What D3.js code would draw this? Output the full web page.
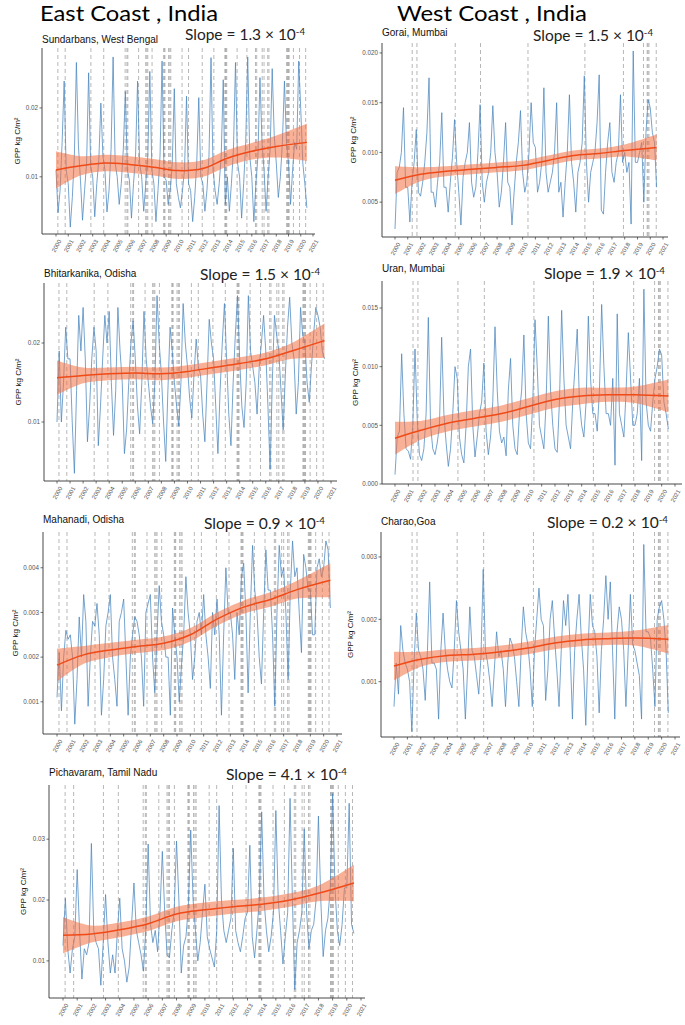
<!DOCTYPE html>
<html><head><meta charset="utf-8">
<script src="https://cdn.jsdelivr.net/npm/d3@7"></script>
<style>body{margin:0;background:#fff} svg{display:block}</style>
</head><body>
<svg id="c" width="685" height="1025"></svg>
<script>
// ---------- DATA ----------
const UNIT = 1e-5;               // series values below are in units of 1e-5 kg C/m²
const SAMPLES_PER_YEAR = 6;      // bimonthly samples starting Jan 2000
const YEAR_TICKS = d3.range(2000, 2022);
const TREND_YEARS = [2000, 2002, 2004, 2006, 2008, 2010, 2012, 2014, 2016, 2018, 2020.5];

const EAST_EVENTS = [2000.15, 2000.75, 2002.85, 2003.9, 2005.65, 2005.8, 2005.87, 2006.75, 2007.33, 2007.42, 2007.5, 2007.85,
  2008.8, 2008.85, 2008.9, 2009.2, 2009.3, 2009.38, 2010.3, 2010.83, 2011.95, 2012.9, 2013.8, 2013.85, 2013.9, 2013.95,
  2014.8, 2015.6, 2016.3, 2016.4, 2016.85, 2017.0, 2017.3, 2017.4, 2018.85, 2018.9, 2018.95, 2019.0, 2019.05, 2019.4, 2019.9, 2020.4];
const WEST_EVENTS = [2001.35, 2001.72, 2004.72, 2006.7, 2010.42, 2014.88, 2017.9, 2019.47, 2019.76, 2019.82, 2019.9, 2020.47];

const sundarbans = [
 1100,480,800,1500,2390,1100, 900,270,700,1300,2660,1450, 950,370,800,1200,2510,1150, 1000,420,900,1250,2070,1300,
 1100,490,800,1400,2740,1200, 1000,600,900,1400,2240,1100, 950,400,900,1300,2390,1200, 1000,500,900,1300,2530,1100,
 900,350,800,1300,2680,1000, 950,600,800,1200,2280,900, 700,550,800,1100,2170,900, 800,350,700,1200,2150,1000,
 900,500,800,1300,2730,1100, 800,600,900,1300,2410,600, 1000,500,900,1400,2660,1200, 1000,400,900,1500,2740,1300,
 1000,350,900,1300,2440,1500, 1100,500,1000,1400,2570,1600, 1200,700,1000,1500,2390,1500, 1200,600,1100,1500,1400,2680,
 1980,1200,900,550];
const gorai = [
 230,800,850,1000,1450,650, 650,300,700,900,1230,600, 560,700,900,1200,1750,600, 600,450,700,900,1400,650,
 650,400,700,950,1330,900, 600,270,750,900,1000,1300, 700,550,650,1000,1480,700, 500,700,800,1000,1470,1000,
 800,450,600,900,1300,700, 650,270,600,900,1100,1420, 800,600,700,1000,1500,1100, 1050,600,700,900,1650,800,
 600,700,800,1000,1500,600, 700,350,700,1000,1580,900, 700,400,800,900,1100,1770, 900,500,800,900,1000,1300,
 1780,420,380,800,1100,1300, 800,700,900,1000,1580,900, 1000,800,900,280,2020,900, 900,1000,1100,500,1200,1530,
 1450,1200,1100,650];
const bhitarkanika = [
 1000,1900,1000,1500,2200,1800, 1800,1000,350,1400,2350,1900, 2450,1800,750,1200,1800,2200, 1900,700,1200,1800,2350,2000,
 2400,1500,830,1400,2450,1900, 1500,600,900,1500,2000,2280, 1800,1200,850,1500,2400,1800, 1500,1200,980,1500,2600,2000,
 1600,1000,500,1400,2200,1900, 1500,1200,950,1500,2500,2000, 1700,1300,1050,1600,2050,1700, 1600,1100,750,1500,2300,2000,
 1800,1200,600,1400,2000,2500, 1800,1100,700,1500,2100,2600, 1800,1200,930,1500,2600,1900, 1700,1500,1100,1700,2000,2350,
 1900,1200,400,1500,2350,2100, 1900,1400,900,1600,2200,2580, 2000,1800,1100,1500,2450,2100, 2000,1500,1250,1700,2100,2450,
 2350,2200,1900,1800];
const uran = [
 80,400,450,1110,600,300, 280,210,500,1150,550,250, 200,300,600,1420,500,300, 250,350,500,1250,600,350,
 150,300,600,1000,900,400, 250,180,500,1000,1150,500, 230,400,600,700,1030,450, 250,400,700,1340,800,450,
 350,400,240,800,1070,500, 300,250,600,800,1270,600, 350,300,700,1400,1000,500, 400,300,700,1430,800,500,
 300,270,700,1480,900,500, 400,300,700,1000,1320,700, 500,400,700,1430,900,600, 600,450,800,1530,1000,600,
 600,500,900,160,1450,600, 500,400,800,1290,900,500, 500,600,900,200,1660,700, 500,450,700,900,1000,1150,
 1100,700,600,470];
const mahanadi = [
 110,210,80,200,260,240, 250,200,50,150,290,200, 340,280,90,200,280,270, 320,250,70,150,270,300,
 340,200,150,90,280,300, 330,200,70,200,250,290, 280,250,200,90,300,320, 340,200,120,250,360,280,
 250,200,200,70,310,250, 200,100,180,250,380,300, 250,150,200,280,300,250, 340,250,200,130,300,250,
 330,250,70,250,400,300, 300,250,150,300,250,380, 410,300,120,300,450,350, 300,200,140,300,440,350,
 350,250,90,300,450,380, 400,300,150,350,460,380, 400,300,210,430,400,350, 350,250,250,400,420,380,
 400,460,440,310];
const charao = [
 60,130,80,190,150,130, 120,100,20,130,210,150, 140,120,70,150,260,130, 130,120,40,150,210,150,
 120,100,90,150,230,180, 150,120,40,120,220,150, 140,110,80,140,280,150, 130,100,60,120,180,140,
 150,120,60,130,170,160, 140,100,60,150,220,180, 160,120,60,150,200,250, 200,190,70,120,200,230,
 170,120,60,150,230,190, 240,150,40,150,200,240, 170,120,30,150,240,190, 180,140,50,150,200,270,
 200,260,150,40,180,220, 200,150,60,150,240,160, 150,130,110,40,320,180, 180,170,120,60,200,220,
 230,200,150,50];
const pichavaram = [
 1250,2030,1200,800,1200,1400, 2500,1500,700,1200,1100,1300, 2930,1500,1300,1200,600,1300, 2090,1300,800,1100,800,1500,
 2030,1200,1000,650,900,1600, 2280,1500,1300,1100,830,1500, 2920,1600,1300,1500,1150,1800, 2800,1800,1100,1050,1500,1800,
 2970,2000,800,1250,1400,1900, 3150,2000,1500,1000,1300,1800, 2260,1400,1200,1050,900,1500, 3550,2000,1500,1300,1500,1700,
 2850,1500,1300,1150,1400,1700, 1800,2900,1400,1050,1500,2000, 3450,2000,1500,1150,1400,1800, 3470,2000,1500,950,1400,1800,
 3670,2000,530,1300,1500,1800, 3170,1800,1200,1500,1600,2000, 3380,2000,1070,1500,1700,2200, 3750,2200,1500,1250,1600,2200,
 2200,3590,1600,1450];

// smoothed trend (kg C/m²) and half-width of its confidence band at TREND_YEARS
const trendSundarbans = [0.0110,0.0116,0.0120,0.0118,0.0114,0.0109,0.0112,0.0127,0.0137,0.0144,0.0150];
const bandSundarbans  = [0.0027,0.0014,0.0012,0.0012,0.0012,0.0012,0.0012,0.0012,0.0012,0.0016,0.0027];
const trendGorai = [0.0072,0.0078,0.0081,0.0083,0.0085,0.0087,0.0092,0.0097,0.0099,0.0102,0.0105];
const bandGorai  = [0.0014,0.0007,0.0005,0.0005,0.0005,0.0005,0.0005,0.0005,0.0005,0.0006,0.0013];
const trendBhitarkanika = [0.0156,0.0159,0.0161,0.0162,0.0161,0.0164,0.0169,0.0174,0.0180,0.0190,0.0203];
const bandBhitarkanika  = [0.0022,0.0010,0.0008,0.0008,0.0008,0.0008,0.0008,0.0008,0.0008,0.0010,0.0022];
const trendUran = [0.0039,0.0046,0.0052,0.0056,0.0060,0.0066,0.0072,0.0075,0.0076,0.0076,0.0075];
const bandUran  = [0.0014,0.0008,0.0007,0.0007,0.0007,0.0007,0.0007,0.0007,0.0006,0.0007,0.0014];
const trendMahanadi = [0.00182,0.00205,0.00216,0.00224,0.00231,0.00250,0.00285,0.00312,0.00329,0.00351,0.00372];
const bandMahanadi  = [0.00037,0.00020,0.00016,0.00015,0.00015,0.00015,0.00015,0.00015,0.00016,0.00020,0.00038];
const trendCharao = [0.00125,0.00136,0.00142,0.00144,0.00148,0.00154,0.00162,0.00167,0.00169,0.00170,0.00168];
const bandCharao  = [0.00023,0.00012,0.00010,0.00010,0.00010,0.00010,0.00010,0.00010,0.00010,0.00012,0.00023];
const trendPichavaram = [0.0142,0.0144,0.0151,0.0161,0.0177,0.0184,0.0189,0.0193,0.0200,0.0211,0.0228];
const bandPichavaram  = [0.0030,0.0014,0.0012,0.0012,0.0012,0.0012,0.0011,0.0011,0.0011,0.0013,0.0030];

const SITES = ["Sundarbans, West Bengal","Gorai, Mumbai","Bhitarkanika, Odisha","Uran, Mumbai","Mahanadi, Odisha","Charao,Goa","Pichavaram, Tamil Nadu"];
const SLOPES = ["1.3","1.5","1.5","1.9","0.9","0.2","4.1"];
const Y_TICKS = [[0.01,0.02],[0.005,0.010,0.015,0.020],[0.01,0.02],[0,0.005,0.010,0.015],[0.001,0.002,0.003,0.004],[0.001,0.002,0.003],[0.01,0.02,0.03]];
const Y_FMT = [".2f",".3f",".2f",".3f",".3f",".3f",".2f"];
const HEADERS = ["East Coast , India","West Coast , India"];
const Y_TITLE = "GPP kg C/m²";

// ---------- LAYOUT ----------
const series = [sundarbans, gorai, bhitarkanika, uran, mahanadi, charao, pichavaram];
const trends = [trendSundarbans, trendGorai, trendBhitarkanika, trendUran, trendMahanadi, trendCharao, trendPichavaram];
const bands = [bandSundarbans, bandGorai, bandBhitarkanika, bandUran, bandMahanadi, bandCharao, bandPichavaram];
const events = [EAST_EVENTS, WEST_EVENTS, EAST_EVENTS, WEST_EVENTS, EAST_EVENTS, WEST_EVENTS, EAST_EVENTS];
const layout = [
 {ax:42, top:48, bot:234, right:315, x0:56, x1:313, yLo:0.0017, yHi:0.0287, titleY:43, ylabX:17, slopeX:185, slopeW:120, slopeY:40},
 {ax:382, top:43, bot:237, right:668, x0:395, x1:663, yLo:0.0015, yHi:0.021, titleY:36, ylabX:353, slopeX:533, slopeW:120, slopeY:41},
 {ax:44, top:283, bot:481, right:337, x0:57, x1:331, yLo:0.00253, yHi:0.0276, titleY:277, ylabX:18, slopeX:200, slopeW:120, slopeY:280},
 {ax:382, top:281, bot:484, right:682, x0:395, x1:675, yLo:0, yHi:0.0173, titleY:272, ylabX:355, slopeX:544, slopeW:121, slopeY:279},
 {ax:43, top:532, bot:734, right:342, x0:57, x1:337, yLo:0.00028, yHi:0.0048, titleY:523, ylabX:15, slopeX:204, slopeW:121, slopeY:529},
 {ax:381, top:532, bot:737, right:680, x0:394, x1:675, yLo:0.000113, yHi:0.0034, titleY:525, ylabX:350, slopeX:547, slopeW:121, slopeY:528},
 {ax:49, top:785, bot:998, right:365, x0:63, x1:361, yLo:0.0039, yHi:0.0389, titleY:776, ylabX:23, slopeX:226, slopeW:121, slopeY:780}
];

const svg = d3.select("#c");
svg.append("rect").attr("width",685).attr("height",1025).attr("fill","#fff");
const SANS = "'Liberation Sans', Arial, sans-serif";
const HUMAN = "Lato, 'Open Sans', sans-serif";

function fitWidth(sel, w){
  const n = sel.node(); const fs = parseFloat(sel.attr("font-size"));
  const cur = n.getComputedTextLength(); if(cur>0) sel.attr("font-size", fs*w/cur);
}

// Column headers
[[40,21,178],[397,21,190]].forEach((p,i)=>{
  svg.append("text").attr("x",p[0]).attr("y",p[1]).attr("font-family",HUMAN).attr("font-size",21).attr("fill","#000")
    .attr("textLength",p[2]).attr("lengthAdjust","spacingAndGlyphs").text(HEADERS[i]);
});

layout.forEach((L,i)=>{
  const g = svg.append("g");
  const x = d3.scaleLinear().domain([2000,2021]).range([L.x0,L.x1]);
  const y = d3.scaleLinear().domain([L.yLo,L.yHi]).range([L.bot,L.top]);

  // event lines
  g.append("g").selectAll("line").data(events[i]).join("line")
    .attr("x1",d=>x(d)).attr("x2",d=>x(d)).attr("y1",L.top).attr("y2",L.bot)
    .attr("stroke","#a4a4a4").attr("stroke-width",0.8).attr("stroke-dasharray","4,3");

  // GPP series
  const pts = series[i].map((v,k)=>[2000 + k/SAMPLES_PER_YEAR, v*UNIT]);
  g.append("path").datum(pts).attr("fill","none").attr("stroke","#4a86bd").attr("stroke-width",0.75)
    .attr("stroke-linejoin","round")
    .attr("d", d3.line().x(d=>x(d[0])).y(d=>y(d[1])));

  // confidence band + trend
  const tr = TREND_YEARS.map((t,k)=>({t, m:trends[i][k], h:bands[i][k]}));
  g.append("path").datum(tr).attr("fill","#f37040").attr("fill-opacity",0.55)
    .attr("d", d3.area().curve(d3.curveCatmullRom.alpha(0.5)).x(d=>x(d.t)).y0(d=>y(d.m-d.h)).y1(d=>y(d.m+d.h)));
  g.append("path").datum(tr).attr("fill","none").attr("stroke","#f04a18").attr("stroke-width",1.5)
    .attr("d", d3.line().curve(d3.curveCatmullRom.alpha(0.5)).x(d=>x(d.t)).y(d=>y(d.m)));

  // axes
  const xa = g.append("g").attr("transform",`translate(0,${L.bot})`);
  xa.append("line").attr("x1",L.ax).attr("x2",L.right).attr("stroke","#333").attr("stroke-width",0.9);
  xa.selectAll("line.t").data(YEAR_TICKS).join("line").attr("class","t")
    .attr("x1",d=>x(d)).attr("x2",d=>x(d)).attr("y1",0).attr("y2",2.5).attr("stroke","#333").attr("stroke-width",0.7);
  xa.selectAll("text").data(YEAR_TICKS).join("text")
    .attr("transform",d=>`translate(${x(d)+2},${5}) rotate(-60)`)
    .attr("text-anchor","end").attr("dy","0.7em").attr("font-family",SANS).attr("font-size",6).attr("fill","#555")
    .text(d=>d);

  const ya = g.append("g").attr("transform",`translate(${L.ax},0)`);
  ya.append("line").attr("y1",L.top).attr("y2",L.bot).attr("stroke","#333").attr("stroke-width",0.9);
  const fmt = d3.format(Y_FMT[i]);
  ya.selectAll("line.t").data(Y_TICKS[i]).join("line").attr("class","t")
    .attr("x1",-2.5).attr("x2",0).attr("y1",d=>y(d)).attr("y2",d=>y(d)).attr("stroke","#333").attr("stroke-width",0.7);
  ya.selectAll("text").data(Y_TICKS[i]).join("text")
    .attr("x",-4).attr("y",d=>y(d)).attr("dy","0.35em").attr("text-anchor","end")
    .attr("font-family",SANS).attr("font-size",6.3).attr("fill","#555").text(d=>fmt(d));

  g.append("text").attr("transform",`translate(${L.ylabX},${(L.top+L.bot)/2}) rotate(-90)`)
    .attr("text-anchor","middle").attr("dy","0.35em").attr("font-family",SANS).attr("font-size",8).attr("fill","#111").text(Y_TITLE);

  // site title
  g.append("text").attr("x",L.ax).attr("y",L.titleY).attr("font-family",SANS).attr("font-size",10).attr("fill","#111").text(SITES[i]);

  // slope label
  const st = g.append("text").attr("x",L.slopeX).attr("y",L.slopeY).attr("font-family",HUMAN).attr("font-size",16).attr("fill","#222");
  st.append("tspan").text(`Slope = ${SLOPES[i]} × 10`);
  st.append("tspan").attr("font-size","0.62em").attr("dy","-0.55em").text("-4");
  fitWidth(st, L.slopeW);
});
</script>
</body></html>
